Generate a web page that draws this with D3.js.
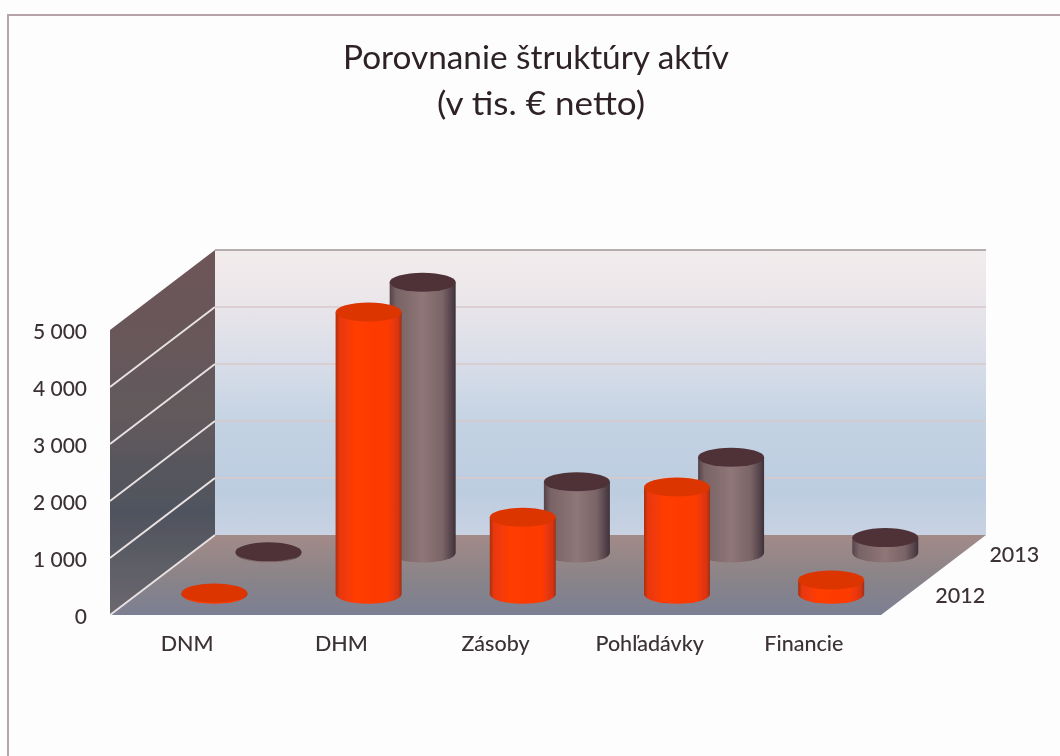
<html>
<script src="https://cdnjs.cloudflare.com/ajax/libs/d3/7.8.5/d3.min.js"></script>
<style>
  body{ margin:0; background:#fefdfd; }
  text{ font-family:Lato,"Open Sans",sans-serif; fill:#3a3034; }
</style>
<body>
  <svg width="1060" height="756"></svg>
</body>
</html>
<script>
  const categories = ['DNM', 'DHM', 'Zásoby', 'Pohľadávky', 'Financie'];
  const seriesNames = ['2012', '2013'];
  const values2012 = [20, 4950, 1350, 1880, 250];
  const values2013 = [20, 4750, 1250, 1680, 270];
  const yTicks = [0, 1000, 2000, 3000, 4000, 5000];
  const titleLines = ['Porovnanie štruktúry aktív', '(v tis. € netto)'];
  const titleWidths = [386, 208];

  const svg = d3.select('svg');
  const defs = svg.append('defs');

  const left = 110, right = 881, floorY = 615, topY = 330;
  const depthX = 105, depthY = 80;
  const rx = 33, ry = 9.5;

  const x = d3.scaleBand().domain(categories).range([left, right]);
  const y = d3.scaleLinear().domain([0, 5000]).range([floorY, topY]);
  // how far back each series stands on the floor, 0 = front edge, 1 = back wall
  const depth = d3.scalePoint().domain(seriesNames).range([0.26, 0.775]);

  function linear(id, dir, stops) {
    const g = defs.append('linearGradient').attr('id', id)
      .attr('x1', 0).attr('y1', 0)
      .attr('x2', dir == 'h' ? 1 : 0).attr('y2', dir == 'h' ? 0 : 1);
    stops.forEach(s => g.append('stop').attr('offset', s[0]).attr('stop-color', s[1]));
  }
  linear('wall', 'v', [[0, '#f3eced'], [0.15, '#ece7ea'], [0.4, '#d8dde8'], [0.62, '#c2d2e3'], [0.85, '#bdcde0'], [1, '#c8d2e3']]);
  linear('side', 'v', [[0, '#6e5558'], [0.45, '#625a5c'], [0.72, '#4f535e'], [1, '#6c686f']]);
  linear('floor', 'v', [[0, '#a38a88'], [0.5, '#8b8488'], [1, '#7c7f93']]);
  linear('body2012', 'h', [[0, '#a83010'], [0.06, '#e8380a'], [0.3, '#ff3c05'], [0.8, '#fb3a05'], [0.95, '#d83410'], [1, '#98301a']]);
  linear('body2013', 'h', [[0, '#56424a'], [0.1, '#786365'], [0.5, '#8f7677'], [0.8, '#7a6466'], [0.95, '#503f47'], [1, '#3d3138']]);

  const soft = defs.append('filter').attr('id', 'soft');
  soft.append('feGaussianBlur').attr('stdDeviation', 0.6);

  const topFill = { '2012': '#dc3606', '2013': '#4f3239' };
  const bodyFill = { '2012': 'url(#body2012)', '2013': 'url(#body2013)' };

  const root = svg.append('g').attr('filter', 'url(#soft)');

  root.append('rect').attr('x', 8).attr('y', 15).attr('width', 1060).attr('height', 760)
    .attr('fill', 'none').attr('stroke', '#b5a3a9').attr('stroke-width', 2);

  const title = root.append('g');
  titleLines.forEach((t, i) => {
    title.append('text').attr('x', i == 0 ? 536 : 541).attr('y', 69 + i * 46)
      .attr('text-anchor', 'middle').attr('font-size', 33)
      .attr('textLength', titleWidths[i]).attr('lengthAdjust', 'spacingAndGlyphs')
      .style('fill', '#2e2428').text(t);
  });

  const back = root.append('g');
  back.append('rect').attr('x', left + depthX).attr('y', y(5000) - depthY)
    .attr('width', right - left).attr('height', floorY - y(5000))
    .attr('fill', 'url(#wall)');
  back.append('path')
    .attr('d', `M${left},${y(5000)}L${left + depthX},${y(5000) - depthY}V${floorY - depthY}L${left},${floorY}Z`)
    .attr('fill', 'url(#side)');
  back.append('path')
    .attr('d', `M${left},${floorY}L${left + depthX},${floorY - depthY}H${right + depthX}L${right},${floorY}Z`)
    .attr('fill', 'url(#floor)');

  // gridlines, along the back wall and down the side wall
  back.selectAll('.grid').data(yTicks.slice(1)).enter().append('line')
    .attr('x1', left + depthX).attr('x2', right + depthX)
    .attr('y1', d => y(d) - depthY).attr('y2', d => y(d) - depthY)
    .attr('stroke', d => d == 5000 ? '#a0969a' : '#dac8ca').attr('stroke-width', 1.5);
  back.selectAll('.gridSide').data(yTicks.slice(0, -1)).enter().append('line')
    .attr('x1', left).attr('y1', d => y(d))
    .attr('x2', left + depthX).attr('y2', d => y(d) - depthY)
    .attr('stroke', '#e9e2e2').attr('stroke-width', 2);

  const yAxis = root.append('g').attr('transform', `translate(${left - 20}, 2)`)
    .call(d3.axisLeft(y).tickValues(yTicks).tickSize(0)
      .tickFormat(d => d3.format(',')(d).replace(',', ' ')));
  yAxis.select('.domain').remove();
  yAxis.selectAll('text').attr('font-size', 21).attr('dy', '0.32em').attr('font-weight', 500);

  const xAxis = root.append('g').attr('transform', `translate(0, ${floorY + 18})`)
    .call(d3.axisBottom(x).tickSize(0));
  xAxis.select('.domain').remove();
  xAxis.selectAll('text').attr('font-size', 21.5).attr('font-weight', 500).attr('dy', '0.71em');

  root.selectAll('.seriesLabel').data(seriesNames).enter().append('text')
    .attr('x', d => right + depth(d) * depthX + 27)
    .attr('y', d => floorY - depth(d) * depthY + 9)
    .attr('font-size', 21.5).attr('font-weight', 500).text(d => d);

  const rows = [values2013, values2012];
  const names = ['2013', '2012'];
  rows.forEach((vals, r) => {
    const name = names[r];
    const d0 = depth(name);
    const g = root.append('g');
    const cx = c => x(c) + x.bandwidth() / 2 + d0 * depthX;
    const base = floorY - d0 * depthY;
    const items = categories.map((c, i) => ({ c: c, v: vals[i] }));

    g.selectAll('path').data(items).enter().append('path')
      .attr('d', d => {
        const top = y(d.v) - d0 * depthY;
        return `M${cx(d.c) - rx},${top}V${base}A${rx},${ry} 0 0 0 ${cx(d.c) + rx},${base}V${top}Z`;
      })
      .attr('fill', bodyFill[name]);
    g.selectAll('ellipse').data(items).enter().append('ellipse')
      .attr('cx', d => cx(d.c)).attr('cy', d => y(d.v) - d0 * depthY)
      .attr('rx', rx).attr('ry', ry)
      .attr('fill', topFill[name]);
  });
</script>
